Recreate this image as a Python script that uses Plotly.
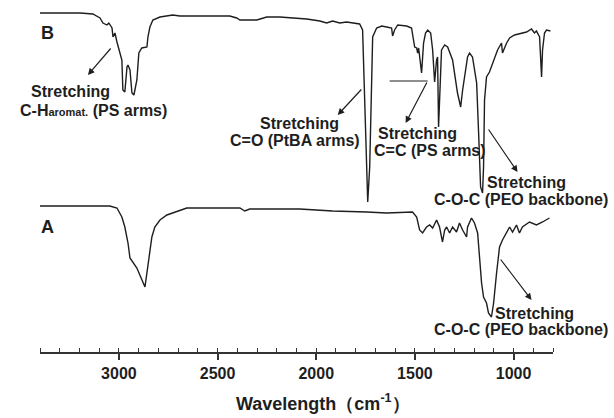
import plotly.graph_objects as go

# Spectrum B (PS / PtBA / PEO star copolymer), wavenumber (cm-1) and transmittance (a.u.)
wn_B = [3400, 3197, 3132, 3096, 3081, 3061, 3051, 3035, 3030, 3020, 3010, 3000, 2985, 2980,
        2970, 2959, 2954, 2944, 2934, 2924, 2909, 2899, 2884, 2858, 2853, 2843, 2828, 2792,
        2727, 2691, 2438, 2403, 2387, 2301, 2251, 2185, 2048, 1982, 1947, 1917, 1881, 1846,
        1815, 1780, 1765, 1760, 1749, 1739, 1729, 1719, 1714, 1694, 1668, 1643, 1618, 1613,
        1603, 1587, 1542, 1517, 1512, 1501, 1491, 1486, 1481, 1471, 1466, 1456, 1446, 1435,
        1420, 1410, 1400, 1390, 1385, 1380, 1370, 1365, 1349, 1334, 1309, 1284, 1268, 1258,
        1233, 1223, 1208, 1187, 1177, 1167, 1157, 1152, 1147, 1137, 1122, 1106, 1081, 1061,
        1056, 1035, 1020, 995, 960, 934, 909, 894, 884, 868, 858, 853, 843, 833, 813]
tr_B = [339, 339, 338, 334, 329, 327, 329, 324, 315, 319, 310, 302, 292, 262,
        260, 285, 287, 282, 259, 257, 272, 299, 304, 305, 315, 325, 332, 335,
        337, 336, 336, 334, 332, 332, 335, 335, 333, 331, 329, 331, 329, 330,
        329, 328, 322, 285, 219, 150, 185, 285, 315, 324, 326, 325, 324, 316,
        322, 327, 326, 324, 317, 305, 304, 299, 304, 285, 279, 309, 319, 322,
        319, 302, 270, 292, 295, 225, 285, 302, 307, 305, 292, 259, 245, 262,
        295, 299, 295, 269, 219, 165, 159, 185, 252, 275, 280, 289, 302, 309,
        299, 309, 314, 317, 319, 320, 323, 319, 321, 315, 275, 302, 319, 322, 321]

# Spectrum A (PEO)
wn_A = [3400, 3046, 3010, 2985, 2970, 2954, 2944, 2909, 2868, 2853, 2833, 2818, 2792, 2757,
        2727, 2681, 2656, 2423, 2387, 2362, 2337, 2084, 1917, 1744, 1643, 1512, 1491, 1476,
        1461, 1441, 1425, 1410, 1390, 1375, 1360, 1349, 1339, 1324, 1309, 1289, 1274, 1258,
        1238, 1233, 1213, 1198, 1182, 1162, 1152, 1137, 1127, 1112, 1101, 1086, 1071, 1056,
        1035, 1020, 1005, 985, 970, 955, 919, 884, 853, 818]
tr_A = [146, 146, 144, 135, 125, 109, 94, 84, 65, 85, 115, 125, 132, 137,
        139, 142, 144, 144, 144, 141, 143, 143, 141, 140, 139, 140, 135, 122,
        119, 125, 127, 124, 132, 125, 110, 122, 125, 119, 125, 120, 129, 122,
        115, 125, 134, 129, 119, 69, 55, 49, 39, 35, 49, 79, 105, 112,
        120, 125, 120, 127, 119, 125, 130, 127, 130, 134]

x_range = [3400, 800]
y_range = [0, 352]

FONT = "Liberation Sans, Arial, sans-serif"
INK = "#1e1e1e"

fig = go.Figure()
for wn, tr in ((wn_B, tr_B), (wn_A, tr_A)):
    fig.add_trace(go.Scatter(x=wn, y=tr, mode="lines",
                             line=dict(color=INK, width=1.4), showlegend=False,
                             hoverinfo="skip"))

# plot area geometry in pixels (for placing text)
L, R_PX, T, B_PX = 40, 553.5, 0, 352
W_PLOT = R_PX - L
H_PLOT = B_PX - T


def px(x):
    return (x - L) / W_PLOT


def py(y):
    return (B_PX - y) / H_PLOT


def text(x, y, s, size=16, anchor="center"):
    fig.add_annotation(x=px(x), y=py(y), xref="paper", yref="paper", text=s,
                       showarrow=False, xanchor=anchor, yanchor="middle",
                       font=dict(family=FONT, size=size, color=INK))


def arrow(x0, y0, x1, y1, head=2):
    fig.add_annotation(x=px(x1), y=py(y1), xref="paper", yref="paper",
                       ax=x0 - x1, ay=y0 - y1, axref="pixel", ayref="pixel",
                       text="", showarrow=True, arrowhead=head, arrowsize=1.1,
                       arrowwidth=1.2, arrowcolor=INK)


text(48, 33, "<b>B</b>", size=18)
text(48, 227, "<b>A</b>", size=18)

text(71, 91, "<b>Stretching</b>")
text(94, 110, "<b>C-H<span style='font-size:11px'>aromat.</span> (PS arms)</b>")
arrow(112, 47, 88, 75)

text(300, 123, "<b>Stretching</b>")
text(295, 140, "<b>C=O (PtBA arms)</b>")
arrow(363, 88, 338, 115)

text(418, 133, "<b>Stretching</b>")
text(430, 150, "<b>C=C (PS arms)</b>")
fig.add_shape(type="line", xref="paper", yref="paper",
              x0=px(390), y0=py(81), x1=px(428), y1=py(81),
              line=dict(color=INK, width=1.2))
arrow(428, 81, 406, 123)

text(527, 182, "<b>Stretching</b>")
text(521, 199, "<b>C-O-C (PEO backbone)</b>")
arrow(488, 128, 518, 172)

text(535, 313, "<b>Stretching</b>")
text(521, 329, "<b>C-O-C (PEO backbone)</b>")
arrow(500, 258, 532, 300)

text(323, 402, "<b>Wavelength（cm<sup>-1</sup>）</b>", size=18)

fig.update_layout(
    width=614, height=418,
    margin=dict(l=L, r=614 - R_PX, t=T, b=418 - B_PX),
    paper_bgcolor="white", plot_bgcolor="white",
    xaxis=dict(range=x_range, tickmode="linear", tick0=0, dtick=500,
               showgrid=False, zeroline=False, showline=True, linecolor="#333",
               linewidth=2, ticks="outside", ticklen=6, tickwidth=1.5, tickcolor="#333",
               tickfont=dict(family=FONT, size=16, color=INK),
               tickprefix="<b>", ticksuffix="</b>",
               minor=dict(dtick=100, tick0=0, ticks="inside", ticklen=4,
                          tickwidth=1.3, tickcolor="#333", showgrid=False)),
    yaxis=dict(range=y_range, visible=False),
)

fig.write_html("out.html", config={"displayModeBar": False},
               post_script="document.body.style.margin='0px';"
                           "document.body.style.overflow='hidden';")
